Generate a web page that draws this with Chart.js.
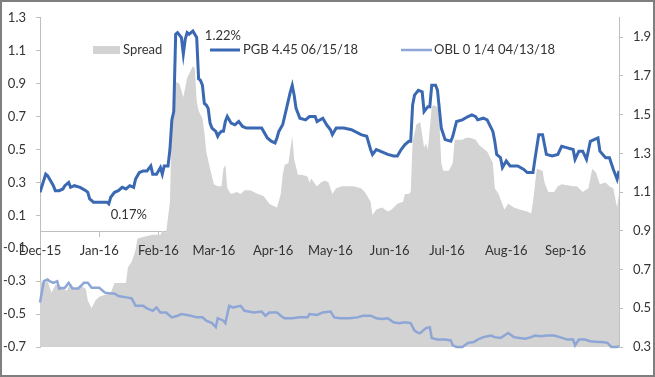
<!DOCTYPE html>
<html lang="en">
<head>
  <meta charset="UTF-8" />
  <title>PGB vs OBL spread</title>
  <script src="https://cdn.jsdelivr.net/npm/chart.js"></script>
  <style>
    body { margin: 0; padding: 0; background: #fff; }
    canvas { display: block; }
  </style>
</head>
<body>
  <canvas id="grafico" width="655" height="377"></canvas>

  <script>
    // days counted from 1 Dec 2015
    const monthDays = [0, 31, 62, 91, 122, 152, 183, 213, 244, 275];
    const monthLabels = ["Dec-15", "Jan-16", "Feb-16", "Mar-16", "Apr-16", "May-16", "Jun-16", "Jul-16", "Aug-16", "Sep-16"];
    const leftTicks = [-0.7, -0.5, -0.3, -0.1, 0.1, 0.3, 0.5, 0.7, 0.9, 1.1, 1.3];
    const rightTicks = [0.3, 0.5, 0.7, 0.9, 1.1, 1.3, 1.5, 1.7, 1.9];

    const pgbDays = [0,3,4,5,7,8,10,12,13,15,16,18,21,24,25,26,28,31,35,36,37,39,41,43,45,47,49,50,52,54,56,58,59,61,63,64,65,67,68,69,70,71,72,74,75,76,77,78,79,80,81,82,83,84,85,86,87,88,89,90,92,93,94,95,96,97,98,99,100,102,103,104,106,108,112,116,117,119,121,123,124,125,126,127,129,131,132,133,134,135,136,139,141,144,145,148,150,152,153,155,159,163,168,171,173,174,176,178,182,185,187,189,191,193,194,195,196,198,200,201,203,204,205,207,208,210,212,215,216,218,221,224,226,228,229,232,234,237,238,239,241,242,244,246,250,253,255,258,259,261,263,265,268,271,273,276,279,280,282,284,286,288,292,293,296,298,300,302,303];
    const pgbValues = [0.24,0.35,0.34,0.32,0.28,0.25,0.25,0.26,0.28,0.30,0.27,0.28,0.27,0.25,0.24,0.20,0.18,0.18,0.18,0.17,0.21,0.24,0.25,0.27,0.26,0.28,0.27,0.32,0.36,0.37,0.37,0.40,0.35,0.35,0.39,0.35,0.40,0.40,0.50,0.68,0.73,1.20,1.21,1.18,1.08,1.17,1.21,1.20,1.21,1.22,1.20,1.18,0.93,0.92,0.89,0.78,0.77,0.75,0.66,0.63,0.61,0.58,0.60,0.61,0.61,0.67,0.70,0.68,0.66,0.65,0.66,0.67,0.64,0.63,0.63,0.63,0.61,0.57,0.55,0.54,0.57,0.61,0.63,0.65,0.75,0.85,0.89,0.83,0.75,0.72,0.69,0.68,0.70,0.70,0.67,0.69,0.65,0.62,0.59,0.63,0.63,0.62,0.59,0.58,0.50,0.47,0.50,0.49,0.47,0.46,0.46,0.50,0.53,0.55,0.55,0.77,0.83,0.86,0.85,0.73,0.76,0.76,0.89,0.89,0.86,0.63,0.56,0.55,0.58,0.67,0.68,0.70,0.71,0.70,0.68,0.69,0.68,0.61,0.55,0.47,0.45,0.39,0.43,0.40,0.40,0.38,0.36,0.36,0.44,0.59,0.59,0.47,0.46,0.47,0.52,0.51,0.50,0.44,0.49,0.49,0.44,0.55,0.57,0.49,0.45,0.45,0.38,0.32,0.37];

    const oblDays = [0,2,4,5,7,9,10,13,15,17,20,23,25,27,31,34,37,39,41,46,48,50,54,56,59,61,63,66,69,72,74,79,82,85,87,90,92,93,96,97,99,101,105,107,112,116,118,120,124,126,128,132,136,140,141,145,148,152,154,157,162,166,169,173,176,179,182,185,188,191,194,196,198,199,202,204,205,208,212,215,216,218,221,224,227,229,232,236,238,241,243,245,248,251,254,257,259,262,265,269,272,276,279,280,282,285,288,292,294,297,299,302,303];
    const oblValues = [-0.43,-0.30,-0.29,-0.30,-0.31,-0.30,-0.345,-0.34,-0.31,-0.345,-0.345,-0.31,-0.31,-0.34,-0.34,-0.37,-0.375,-0.375,-0.39,-0.40,-0.405,-0.45,-0.45,-0.465,-0.48,-0.46,-0.49,-0.49,-0.52,-0.51,-0.50,-0.51,-0.52,-0.52,-0.54,-0.555,-0.58,-0.525,-0.54,-0.555,-0.45,-0.46,-0.45,-0.48,-0.49,-0.485,-0.51,-0.49,-0.49,-0.51,-0.525,-0.525,-0.52,-0.52,-0.50,-0.505,-0.49,-0.485,-0.52,-0.525,-0.525,-0.52,-0.51,-0.51,-0.525,-0.53,-0.525,-0.55,-0.555,-0.55,-0.555,-0.60,-0.615,-0.615,-0.585,-0.58,-0.645,-0.655,-0.655,-0.66,-0.69,-0.70,-0.70,-0.675,-0.67,-0.655,-0.64,-0.63,-0.64,-0.645,-0.63,-0.615,-0.64,-0.645,-0.65,-0.64,-0.63,-0.635,-0.63,-0.63,-0.64,-0.655,-0.655,-0.69,-0.655,-0.655,-0.665,-0.67,-0.67,-0.675,-0.70,-0.70,-0.695];

    const spreadDays = [0,2,4,6,8,10,14,16,18,21,24,25,27,29,31,34,37,39,42,45,46,48,50,51,55,59,63,64,66,68,69,71,73,75,77,80,81,82,83,85,86,87,89,91,93,95,96,97,98,100,103,105,107,110,114,117,120,124,126,127,128,130,132,133,135,137,140,141,142,144,145,147,149,151,153,155,158,164,168,170,173,174,176,179,182,184,187,190,191,193,194,195,197,199,201,202,203,205,206,208,209,210,211,214,216,217,221,223,225,228,230,234,237,238,240,243,245,248,251,255,257,258,260,263,264,266,269,271,273,279,281,284,287,289,291,293,296,298,300,302,303];
    const spreadValues = [0.64,0.63,0.64,0.58,0.62,0.62,0.59,0.63,0.60,0.62,0.60,0.54,0.50,0.54,0.56,0.57,0.58,0.63,0.63,0.63,0.71,0.74,0.80,0.86,0.87,0.88,0.88,0.90,0.89,1.05,1.46,1.67,1.66,1.59,1.69,1.75,1.74,1.57,1.52,1.48,1.41,1.31,1.22,1.14,1.13,1.13,1.22,1.24,1.12,1.09,1.10,1.09,1.11,1.11,1.09,1.08,1.04,1.02,1.09,1.19,1.24,1.25,1.39,1.27,1.19,1.19,1.18,1.15,1.17,1.14,1.13,1.15,1.16,1.15,1.09,1.12,1.13,1.13,1.12,1.10,1.05,0.98,1.01,1.02,1.00,1.01,1.04,1.05,1.09,1.09,1.10,1.36,1.45,1.46,1.33,1.35,1.32,1.54,1.55,1.54,1.46,1.25,1.21,1.21,1.25,1.37,1.37,1.38,1.38,1.37,1.34,1.31,1.25,1.12,1.09,1.01,1.04,1.02,1.01,1.00,0.99,1.05,1.22,1.21,1.15,1.10,1.10,1.13,1.14,1.13,1.13,1.10,1.12,1.22,1.20,1.14,1.15,1.13,1.12,1.02,1.09];

    const fuente = "Lato, 'Open Sans', sans-serif";
    const colorTexto = "#333333";
    const colorEje = "#bfbfbf";
    const colorPGB = "#3a68b2";
    const colorOBL = "#8ea6d6";
    const colorSpread = "#d3d3d3";

    const toPoints = (xs, ys) => xs.map((d, i) => ({ x: d, y: ys[i] }));

    const fondoYMarco = {
      id: "fondoYMarco",
      beforeDraw(chart) {
        const c = chart.ctx;
        c.save();
        c.fillStyle = "#ffffff";
        c.fillRect(0, 0, chart.width, chart.height);
        c.restore();
      },
      afterDraw(chart) {
        const c = chart.ctx;
        c.save();
        c.strokeStyle = "#7f7f7f";
        c.lineWidth = 2;
        c.strokeRect(1, 1, chart.width - 2, chart.height - 2);
        c.restore();
      }
    };

    const leyenda = {
      id: "leyenda",
      afterDatasetsDraw(chart) {
        const c = chart.ctx;
        c.save();
        c.font = "13px " + fuente;
        c.fillStyle = colorTexto;
        c.textBaseline = "middle";
        c.textAlign = "left";
        const y = 50;
        c.fillStyle = colorSpread;
        c.fillRect(93, 46, 27, 8);
        c.fillStyle = colorTexto;
        c.fillText("Spread", 123, y);

        c.lineWidth = 3;
        c.strokeStyle = colorPGB;
        c.beginPath(); c.moveTo(210, y); c.lineTo(240, y); c.stroke();
        c.fillText("PGB 4.45 06/15/18", 243, y);

        c.lineWidth = 2.5;
        c.strokeStyle = colorOBL;
        c.beginPath(); c.moveTo(401, y); c.lineTo(432, y); c.stroke();
        c.fillText("OBL 0 1/4 04/13/18", 434, y);

        // etiquetas de máximo y mínimo de PGB
        const xs = chart.scales.x, ys = chart.scales.y;
        const maxV = Math.max(...pgbValues), minV = Math.min(...pgbValues);
        const iMax = pgbValues.indexOf(maxV), iMin = pgbValues.indexOf(minV);
        c.fillText(maxV.toFixed(2) + "%", xs.getPixelForValue(pgbDays[iMax]) + 12, ys.getPixelForValue(maxV) + 5);
        c.textAlign = "center";
        c.fillText(minV.toFixed(2) + "%", xs.getPixelForValue(pgbDays[iMin]) + 20, ys.getPixelForValue(minV) + 11);
        c.restore();
      }
    };

    new Chart(document.getElementById("grafico").getContext("2d"), {
      type: "line",
      data: {
        datasets: [
          {
            label: "PGB 4.45 06/15/18",
            data: toPoints(pgbDays, pgbValues),
            yAxisID: "y",
            borderColor: colorPGB,
            borderWidth: 3,
            pointRadius: 0,
            fill: false,
            order: 1
          },
          {
            label: "OBL 0 1/4 04/13/18",
            data: toPoints(oblDays, oblValues),
            yAxisID: "y",
            borderColor: colorOBL,
            borderWidth: 2.5,
            pointRadius: 0,
            fill: false,
            clip: 4,
            order: 2
          },
          {
            label: "Spread",
            data: toPoints(spreadDays, spreadValues),
            yAxisID: "y1",
            borderWidth: 0,
            borderColor: colorSpread,
            backgroundColor: colorSpread,
            pointRadius: 0,
            fill: "start",
            order: 3
          }
        ]
      },
      options: {
        responsive: false,
        animation: false,
        devicePixelRatio: 1,
        layout: { padding: { top: 14, bottom: 30, left: 0, right: 0 } },
        plugins: {
          legend: { display: false },
          tooltip: { enabled: false }
        },
        scales: {
          x: {
            type: "linear",
            min: 0,
            max: 303,
            position: { y: 0 },
            afterBuildTicks(scale) { scale.ticks = monthDays.map(v => ({ value: v })); },
            grid: { drawOnChartArea: false, drawTicks: true, tickLength: 5, color: colorEje },
            border: { color: colorEje, width: 1 },
            ticks: {
              z: 1,
              autoSkip: false,
              maxRotation: 0,
              padding: 6,
              color: colorTexto,
              font: { family: fuente, size: 13 },
              callback: (v) => monthLabels[monthDays.indexOf(v)]
            }
          },
          y: {
            type: "linear",
            position: "left",
            min: -0.7,
            max: 1.3,
            afterBuildTicks(scale) { scale.ticks = leftTicks.map(v => ({ value: v })); },
            afterFit(scale) { scale.width = 40; },
            grid: { drawOnChartArea: false, drawTicks: true, tickLength: 4, color: colorEje },
            border: { color: colorEje, width: 1 },
            ticks: {
              padding: 10,
              color: colorTexto,
              font: { family: fuente, size: 13 },
              callback: (v) => v.toFixed(1)
            }
          },
          y1: {
            type: "linear",
            position: "right",
            min: 0.3,
            max: 2.0,
            afterBuildTicks(scale) { scale.ticks = rightTicks.map(v => ({ value: v })); },
            afterFit(scale) { scale.width = 36; },
            grid: { drawOnChartArea: false, drawTicks: true, tickLength: 4, color: colorEje },
            border: { color: colorEje, width: 1 },
            ticks: {
              padding: 10,
              color: colorTexto,
              font: { family: fuente, size: 13 },
              callback: (v) => v.toFixed(1)
            }
          }
        }
      },
      plugins: [fondoYMarco, leyenda]
    });
  </script>
</body>
</html>
